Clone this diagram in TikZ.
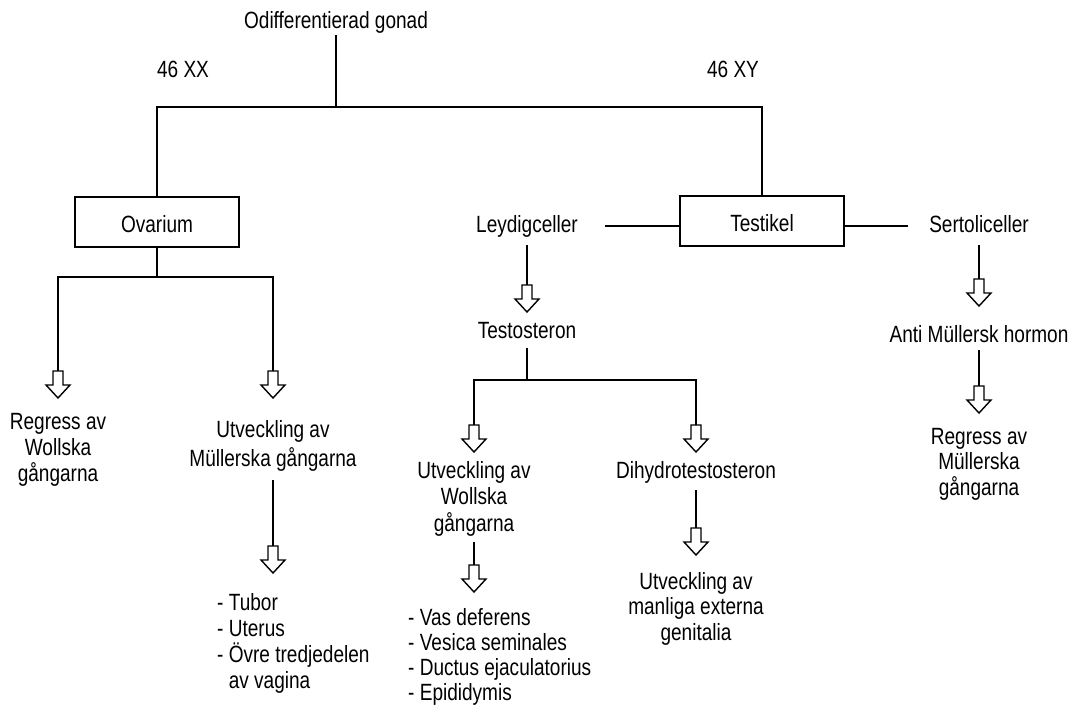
\documentclass[tikz,border=0pt]{standalone}
\usepackage{fontspec}
\setmainfont{Liberation Sans}[FakeStretch=0.81]
\newcommand{\firstln}{\rule{0pt}{22pt}}
\tikzset{
  hhead/.pic={\draw[line width=1.4pt, fill=white, line join=miter]
    (-5,-27) -- (-5,-13) -- (-12,-13) -- (0,0) -- (12,-13) -- (5,-13) -- (5,-27) -- cycle;}
}
\begin{document}
\lineskiplimit=-30pt
\begin{tikzpicture}[x=1pt,y=-1pt,
  every node/.style={inner sep=0pt, font=\fontsize{23.5}{26}\selectfont},
  lbl/.style={text height=17pt, text depth=5pt, anchor=base},
  multi/.style={align=center, anchor=north},
  listtxt/.style={align=left, anchor=north west},
  gbox/.style={draw, line width=2pt, minimum width=164pt, minimum height=50pt,
    text height=20pt, text depth=0pt},
  conn/.style={line width=2pt}
]
\useasboundingbox (0,0) rectangle (1081,707);

% nodes
\node[lbl] (gonad) at (336,28) {Odifferentierad gonad};
\node[lbl] (xx) at (183,77) {46 XX};
\node[lbl] (xy) at (733,77) {46 XY};
\node[gbox] (ovarium) at (157,222) {Ovarium};
\node[gbox] (testikel) at (762,221) {Testikel};
\node[lbl] (leydig) at (527,232) {Leydigceller};
\node[lbl] (sertoli) at (979,232) {Sertoliceller};
\node[lbl] (testo) at (527,338) {Testosteron};
\node[multi] (regW) at (58,407) {\firstln Regress av\\Wollska\\gångarna};
\node[multi, font=\fontsize{23.5}{29}\selectfont] (utvM) at (273,415)
  {\firstln Utveckling av\\Müllerska gångarna};
\node[listtxt, font=\fontsize{23.5}{26.2}\selectfont] (tubor) at (217,588)
  {\firstln - Tubor\\- Uterus\\- Övre tredjedelen\\\phantom{- }av vagina};
\node[multi, font=\fontsize{23.5}{26.7}\selectfont] (utvW) at (474,456)
  {\firstln Utveckling av\\Wollska\\gångarna};
\node[listtxt, font=\fontsize{23.5}{25}\selectfont] (vas) at (408,603)
  {\firstln - Vas deferens\\- Vesica seminales\\- Ductus ejaculatorius\\- Epididymis};
\node[lbl] (dht) at (696,478) {Dihydrotestosteron};
\node[multi, font=\fontsize{23.5}{25.5}\selectfont] (manl) at (696,567)
  {\firstln Utveckling av\\manliga externa\\genitalia};
\node[lbl] (amh) at (979,342) {Anti Müllersk hormon};
\node[multi, font=\fontsize{23.5}{25.5}\selectfont] (regM) at (979,422)
  {\firstln Regress av\\Müllerska\\gångarna};

% junctions and arrow tips
\coordinate (gs) at (336,107);
\coordinate (os) at (157,277);
\coordinate (ts) at (527,380);
\coordinate (t1) at (58,398);
\coordinate (t2) at (273,398);
\coordinate (t3) at (273,573);
\coordinate (t4) at (527,312);
\coordinate (t5) at (474,452);
\coordinate (t6) at (696,452);
\coordinate (t7) at (474,592);
\coordinate (t8) at (696,555);
\coordinate (t9) at (979,306);
\coordinate (t10) at (979,413);

% connectors
\draw[conn, shorten <=2pt] (gonad.south) -- (gs);
\draw[conn] (ovarium.north) |- (gs) -| (testikel.north);
\draw[conn] (ovarium.south) -- (os);
\draw[conn] (t1) |- (os) -| (t2);
\draw[conn, shorten <=9pt] (utvM.south) -- (t3);
\draw[conn, shorten <=27pt] (leydig.east) -- (leydig.east -| testikel.west);
\draw[conn, shorten <=21pt] (sertoli.west) -- (sertoli.west -| testikel.east);
\draw[conn, shorten <=8pt] (leydig.south) -- (t4);
\draw[conn, shorten <=5pt] (testo.south) -- (ts);
\draw[conn] (t5) |- (ts) -| (t6);
\draw[conn, shorten <=5pt] (utvW.south) -- (t7);
\draw[conn, shorten <=7pt] (dht.south) -- (t8);
\draw[conn, shorten <=8pt] (sertoli.south) -- (t9);
\draw[conn, shorten <=3pt] (amh.south) -- (t10);

% hollow arrow heads
\foreach \t in {t1,t2,t3,t4,t5,t6,t7,t8,t9,t10} \pic at (\t) {hhead};
\end{tikzpicture}
\end{document}
